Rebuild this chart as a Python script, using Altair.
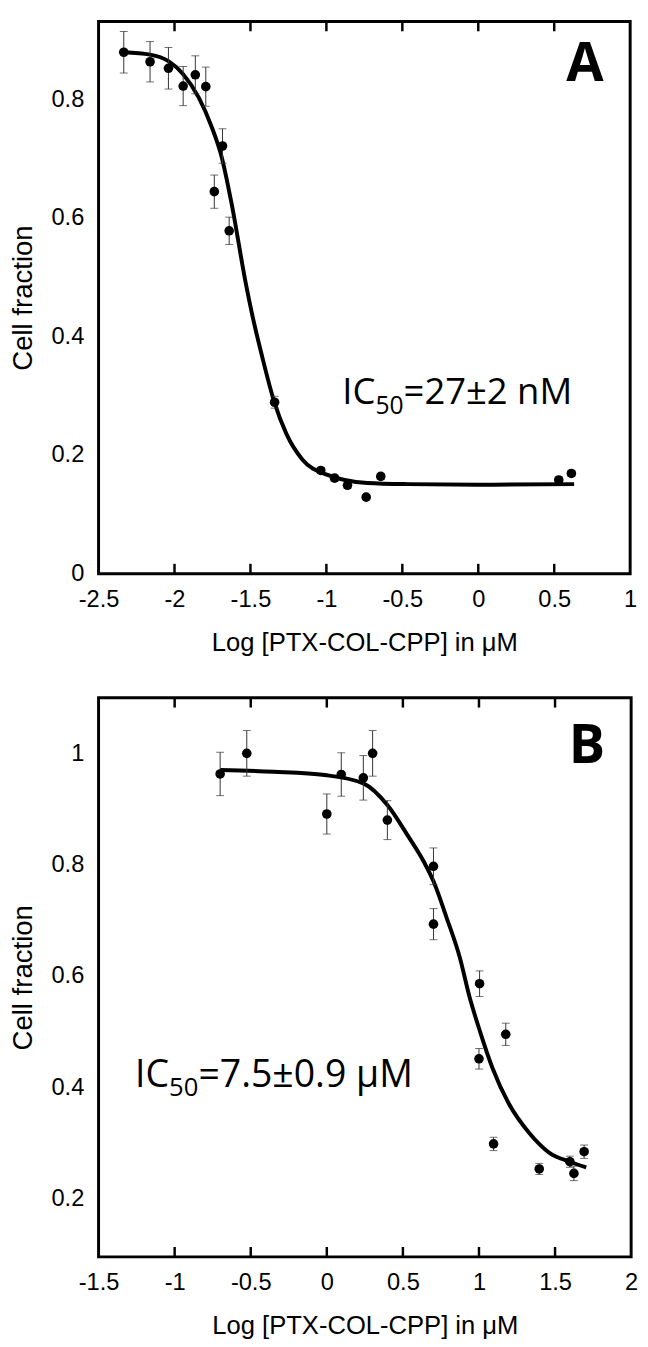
import altair as alt
import pandas as pd

# ---------------- Panel A data ----------------
a_x = [-2.334, -2.161, -2.040, -1.943, -1.863, -1.794, -1.684, -1.738, -1.640,
       -1.341, -1.037, -0.946, -0.861, -0.738, -0.642, 0.530, 0.613]
a_y = [0.879, 0.863, 0.852, 0.822, 0.841, 0.821, 0.721, 0.644, 0.578,
       0.289, 0.174, 0.161, 0.149, 0.129, 0.164, 0.158, 0.169]
a_err = [0.035, 0.034, 0.035, 0.033, 0.032, 0.033, 0.029, 0.028, 0.023,
         0.010, 0.005, 0.005, 0.005, 0.004, 0.005, 0.005, 0.005]
a_curve_x = [-2.334, -2.161, -2.040, -1.943, -1.841, -1.755, -1.690, -1.625, -1.531,
             -1.474, -1.424, -1.344, -1.264, -1.157, -0.997, -0.730, -0.463, 0.0, 0.631]
a_curve_y = [0.879, 0.875, 0.864, 0.842, 0.803, 0.753, 0.703, 0.625, 0.490,
             0.420, 0.367, 0.290, 0.236, 0.192, 0.167, 0.153, 0.151, 0.150, 0.151]
a_xticks = [-2.5, -2, -1.5, -1, -0.5, 0, 0.5, 1]
a_inner_ticks = [-2, -1.5, -1, -0.5, 0, 0.5]
a_yticks = [0, 0.2, 0.4, 0.6, 0.8]

# ---------------- Panel B data ----------------
b_x = [-0.701, -0.526, 0.0, 0.095, 0.240, 0.301, 0.398, 0.701, 0.701, 1.004,
       1.000, 1.176, 1.096, 1.396, 1.597, 1.624, 1.691]
b_y = [0.963, 1.000, 0.891, 0.962, 0.956, 1.000, 0.880, 0.797, 0.693, 0.586,
       0.451, 0.495, 0.298, 0.253, 0.266, 0.245, 0.284]
b_err = [0.039, 0.041, 0.036, 0.039, 0.040, 0.041, 0.035, 0.033, 0.028, 0.023,
         0.0185, 0.020, 0.012, 0.010, 0.010, 0.013, 0.012]
b_curve_x = [-0.701, -0.350, -0.013, 0.240, 0.398, 0.528, 0.636, 0.701, 0.788, 0.874,
             0.939, 1.007, 1.088, 1.195, 1.329, 1.463, 1.597, 1.705]
b_curve_y = [0.970, 0.967, 0.961, 0.946, 0.907, 0.854, 0.806, 0.770, 0.704, 0.633,
             0.561, 0.500, 0.435, 0.371, 0.318, 0.282, 0.266, 0.256]
b_xticks = [-1.5, -1, -0.5, 0, 0.5, 1, 1.5, 2]
b_inner_ticks = [-1, -0.5, 0, 0.5, 1, 1.5]
b_yticks = [0.2, 0.4, 0.6, 0.8, 1]

X_TITLE = "Log [PTX-COL-CPP] in μM"
Y_TITLE = "Cell fraction"
FONT = "Liberation Sans"
ANN_FONT = "Open Sans"
LABEL_EXPR = "datum.value < 0 ? '-' + format(-datum.value, '~g') : format(datum.value, '~g')"


def panel(px, py, pe, cx, cy, xdom, ydom, xticks, yticks, inner, W, H,
          letter, letter_xy, ic_main, ic_tail, ic_pos, ic_size, sub_size):
    xs = alt.Scale(domain=xdom, nice=False, zero=False)
    ys = alt.Scale(domain=ydom, nice=False, zero=False)
    x_axis = alt.Axis(values=xticks, labelExpr=LABEL_EXPR, labelFont=FONT, labelFontSize=24,
                      labelColor="black", labelPadding=14, labelFlush=False, labelOverlap=False,
                      ticks=False, tickSize=0, domain=False, grid=False,
                      title=X_TITLE, titleFont=FONT, titleFontSize=26, titleFontWeight="normal",
                      titleColor="black", titleBaseline="alphabetic", titleY=78)
    y_axis = alt.Axis(values=yticks, labelExpr=LABEL_EXPR, labelFont=FONT, labelFontSize=24,
                      labelColor="black", labelPadding=15, labelFlush=False, labelOverlap=False,
                      ticks=False, tickSize=0, domain=False, grid=False,
                      title=Y_TITLE, titleFont=FONT, titleFontSize=28, titleFontWeight="normal",
                      titleColor="black", titleAngle=270, titleBaseline="alphabetic",
                      titleX=-68, titleY=H / 2, titleAlign="center")

    pts = pd.DataFrame({"x": px, "y": py, "e": pe})
    crv = pd.DataFrame({"x": cx, "y": cy})
    tk = pd.DataFrame({"x": inner})

    base_pts = alt.Chart(pts).transform_calculate(lo="datum.y - datum.e", hi="datum.y + datum.e")

    X = alt.X("x:Q", scale=xs, axis=x_axis)

    curve = alt.Chart(crv).mark_line(color="black", strokeWidth=4, interpolate="monotone").encode(
        x=X, y=alt.Y("y:Q", scale=ys, axis=y_axis),
    )
    bars = base_pts.mark_rule(color="#333333", strokeWidth=1).encode(
        x=X, y=alt.Y("lo:Q", scale=ys, axis=y_axis), y2="hi:Q",
    )
    cap_lo = base_pts.mark_tick(orient="horizontal", size=8, thickness=1, color="#333333").encode(
        x=X, y=alt.Y("lo:Q", scale=ys, axis=y_axis),
    )
    cap_hi = base_pts.mark_tick(orient="horizontal", size=8, thickness=1, color="#333333").encode(
        x=X, y=alt.Y("hi:Q", scale=ys, axis=y_axis),
    )
    dots = alt.Chart(pts).mark_circle(color="black", size=95, opacity=1).encode(
        x=X, y=alt.Y("y:Q", scale=ys, axis=y_axis),
    )
    top_ticks = alt.Chart(tk).mark_rule(color="black", strokeWidth=2.5).encode(
        x=X, y=alt.value(0), y2=alt.value(10)
    )
    bot_ticks = alt.Chart(tk).mark_rule(color="black", strokeWidth=2.5).encode(
        x=X, y=alt.value(H - 10), y2=alt.value(H)
    )
    lab = pd.DataFrame({"s": [letter], "m": [ic_main], "sub": ["50"], "tail": [ic_tail]})
    letter_mark = alt.Chart(lab).mark_text(font=ANN_FONT, fontWeight="bold", fontSize=55,
                                           align="center", baseline="alphabetic", color="black").encode(
        x=alt.value(letter_xy[0]), y=alt.value(letter_xy[1]), text="s:N")
    ic1 = alt.Chart(lab).mark_text(font=ANN_FONT, fontSize=ic_size, align="left",
                                   baseline="alphabetic", color="black").encode(
        x=alt.value(ic_pos[0]), y=alt.value(ic_pos[1]), text="m:N")
    ic_w = 0.912 * ic_size
    sub_w = 2 * 0.572 * sub_size
    ic2 = alt.Chart(lab).mark_text(font=ANN_FONT, fontSize=sub_size, align="left",
                                   baseline="alphabetic", color="black").encode(
        x=alt.value(ic_pos[0] + ic_w), y=alt.value(ic_pos[1] + 10), text="sub:N")
    ic3 = alt.Chart(lab).mark_text(font=ANN_FONT, fontSize=ic_size, align="left",
                                   baseline="alphabetic", color="black").encode(
        x=alt.value(ic_pos[0] + ic_w + sub_w), y=alt.value(ic_pos[1]), text="tail:N")

    return alt.layer(curve, bars, cap_lo, cap_hi, dots, top_ticks, bot_ticks,
                     letter_mark, ic1, ic2, ic3).properties(width=W, height=H)


pA = panel(a_x, a_y, a_err, a_curve_x, a_curve_y, [-2.5, 1], [0, 0.931],
           a_xticks, a_yticks, a_inner_ticks, 540, 561,
           "A", (494, 61), "IC", "=27±2 nM", (247.5, 389), 37, 25)
pB = panel(b_x, b_y, b_err, b_curve_x, b_curve_y, [-1.5, 2], [0.095, 1.1],
           b_xticks, b_yticks, b_inner_ticks, 541, 568,
           "B", (496, 66), "IC", "=7.5±0.9 μM", (37, 395), 38, 26)

chart = alt.vconcat(pA, pB, spacing=38).properties(padding=0).configure(
    background="white"
).configure_view(stroke="black", strokeWidth=3)

chart.save("out.html", embed_options={"renderer": "svg", "actions": False})
